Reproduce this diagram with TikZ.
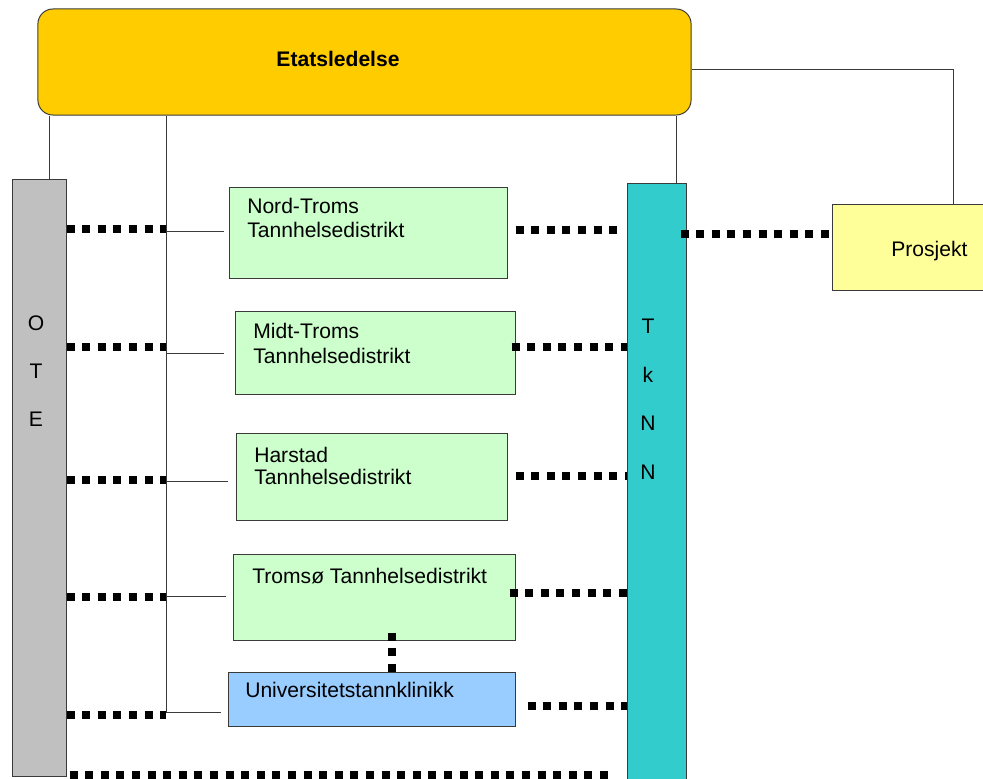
\documentclass[tikz,border=0pt]{standalone}
\usepackage{fontspec}
\setmainfont{Liberation Sans}
\definecolor{etatgold}{HTML}{FFCC00}
\definecolor{otegray}{HTML}{C0C0C0}
\definecolor{tknnteal}{HTML}{33CCCC}
\definecolor{distgreen}{HTML}{CCFFCC}
\definecolor{uniblue}{HTML}{99CCFF}
\definecolor{projyellow}{HTML}{FFFF99}
\definecolor{edgegray}{HTML}{3A3A3A}

\begin{document}
\begin{tikzpicture}[x=0.025cm, y=-0.025cm, font=\fontsize{15}{17}\selectfont,
  box/.style={draw=edgegray, line width=0.7pt, inner sep=0pt},
  thinline/.style={draw=edgegray, line width=0.7pt},
  dotline/.style={line width=5.3pt, dash pattern=on 0.2cm off 0.19cm},
  lbl/.style={inner sep=0pt, text=black}]
  \useasboundingbox (0,0) rectangle (983,778);

  % --- ledelse og staver ---
  \node[box, fill=etatgold, rounded corners=0.375cm,
        minimum width=16.325cm, minimum height=2.65cm] (etat) at (364.5,62) {};
  \node[lbl, font=\fontsize{15}{17}\selectfont\bfseries] (etattxt) at (338,59) {Etatsledelse};
  \node[box, fill=otegray, minimum width=1.35cm, minimum height=14.9cm] (ote) at (39,478) {};
  \node[box, fill=tknnteal, minimum width=1.475cm, minimum height=15.5cm] (tknn) at (656.5,494) {};
  \node[box, fill=projyellow, minimum width=4.2cm, minimum height=2.15cm] (prosjekt) at (916,247) {};
  \node[lbl, anchor=base west] (prosjekttxt) at (891,256) {Prosjekt};

  \node[lbl, align=center, font=\fontsize{15}{34}\selectfont] (otetxt) at (36,371) {O\\T\\E};
  \node[lbl, align=center, font=\fontsize{15}{34.5}\selectfont] (tknntxt) at (648,399) {T\\k\\N\\N};

  % --- distrikter ---
  \node[box, fill=distgreen, minimum width=6.925cm, minimum height=2.275cm] (nord) at (368.5,232.5) {};
  \node[box, fill=distgreen, minimum width=6.975cm, minimum height=2.075cm] (midt) at (375.5,352.5) {};
  \node[box, fill=distgreen, minimum width=6.75cm, minimum height=2.175cm] (harstad) at (372,476.5) {};
  \node[box, fill=distgreen, minimum width=7.025cm, minimum height=2.15cm] (tromso) at (374.5,597) {};
  \node[box, fill=uniblue, minimum width=7.15cm, minimum height=1.35cm] (univ) at (372,699) {};

  \node[lbl, anchor=north west, align=left] (nordtxt) at (247,198) {Nord-Troms\\Tannhelsedistrikt};
  \node[lbl, anchor=north west, align=left, font=\fontsize{15}{17.8}\selectfont] (midttxt) at (253,323) {Midt-Troms\\Tannhelsedistrikt};
  \node[lbl, anchor=north west, align=left, font=\fontsize{15}{15.6}\selectfont] (harstadtxt) at (254,447) {Harstad\\Tannhelsedistrikt};
  \node[lbl, anchor=base west] (tromsotxt) at (252,583) {Tromsø Tannhelsedistrikt};
  \node[lbl, anchor=base west] (univtxt) at (245,697) {Universitetstannklinikk};

  % --- linjer fra ledelsen ---
  \coordinate (bus) at (166,712);
  \draw[thinline] ([xshift=0.25cm]ote.north) -- ([xshift=0.25cm]ote.north |- etat.south);
  \draw[thinline] (etat.south -| bus) -- (bus);
  \draw[thinline] ([xshift=0.51cm]tknn.north) -- ([xshift=0.51cm]tknn.north |- etat.south);
  \draw[thinline] ([yshift=-0.175cm]etat.east) -| ([xshift=0.925cm]prosjekt.north);

  % --- tynne linjer fra bussen ---
  \coordinate (t1) at (166,231);
  \coordinate (t2) at (166,353);
  \coordinate (t3) at (166,481);
  \coordinate (t4) at (166,596);
  \draw[thinline, shorten >=0.125cm] (t1) -- (t1 -| nord.west);
  \draw[thinline, shorten >=0.275cm] (t2) -- (t2 -| midt.west);
  \draw[thinline, shorten >=0.2cm] (t3) -- (t3 -| harstad.west);
  \draw[thinline, shorten >=0.175cm] (t4) -- (t4 -| tromso.west);
  \draw[thinline, shorten >=0.175cm] (bus) -- (bus -| univ.west);

  % --- stiplet mot OTE ---
  \coordinate (l1) at (166,229);
  \coordinate (l2) at (166,347);
  \coordinate (l3) at (166,480);
  \coordinate (l4) at (166,597);
  \coordinate (l5) at (166,715);
  \draw[dotline] (ote.east |- l1) -- (l1);
  \draw[dotline] (ote.east |- l2) -- (l2);
  \draw[dotline] (ote.east |- l3) -- (l3);
  \draw[dotline] (ote.east |- l4) -- (l4);
  \draw[dotline] (ote.east |- l5) -- (l5);

  % --- stiplet mot TkNN ---
  \coordinate (r1) at (0,230);
  \coordinate (r2) at (0,347);
  \coordinate (r3) at (0,476);
  \coordinate (r4) at (0,593);
  \coordinate (r5) at (0,706);
  \coordinate (rp) at (0,234);
  \coordinate (rb) at (0,775);
  \draw[dotline, shorten <=0.2cm, shorten >=0.225cm] (nord.east |- r1) -- (tknn.west |- r1);
  \draw[dotline, shorten <=-0.1cm] (midt.east |- r2) -- (tknn.west |- r2);
  \draw[dotline, shorten <=0.2cm] (harstad.east |- r3) -- (tknn.west |- r3);
  \draw[dotline, shorten <=-0.15cm] (tromso.east |- r4) -- (tknn.west |- r4);
  \draw[dotline, shorten <=0.3cm] (univ.east |- r5) -- (tknn.west |- r5);
  \draw[dotline, shorten <=-0.15cm] (tknn.east |- rp) -- (prosjekt.west |- rp);
  \draw[dotline, shorten <=0.075cm, shorten >=0.275cm] (ote.east |- rb) -- (tknn.west |- rb);
  \draw[dotline, shorten <=-0.2cm] ([xshift=0.44cm]tromso.south) -- ([xshift=0.44cm]tromso.south |- univ.north);
\end{tikzpicture}
\end{document}
